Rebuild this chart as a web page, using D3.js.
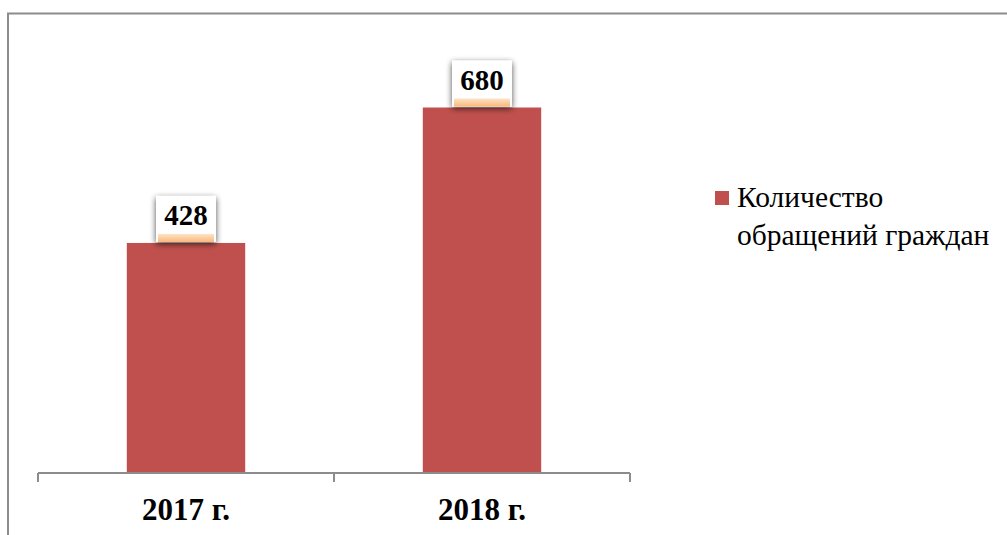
<!DOCTYPE html>
<html>
<head>
<meta charset="utf-8">
<script src="https://cdn.jsdelivr.net/npm/d3@7"></script>
<style>
  body { margin: 0; background: #fff; }
  svg { display: block; }
</style>
</head>
<body>
<div id="chart"></div>
<script>
// chart data
var categories = ["2017 г.", "2018 г."],
    values = [428, 680],
    seriesName = ["Количество", "обращений граждан"],
    barColor = "#C0504D";

var width = 1007,
    height = 535,
    serif = "'Liberation Serif', 'Times New Roman', serif";

var svg = d3.select("#chart")
    .append("svg")
    .attr("width", width)
    .attr("height", height);

var defs = svg.append("defs");

// soft shadow round the value labels
var shadow = defs.append("filter")
    .attr("id", "lblShadow")
    .attr("x", "-30%").attr("y", "-30%")
    .attr("width", "160%").attr("height", "160%");
shadow.append("feGaussianBlur").attr("in", "SourceAlpha").attr("stdDeviation", 3).attr("result", "b");
shadow.append("feOffset").attr("in", "b").attr("dx", 0).attr("dy", 2).attr("result", "o");
shadow.append("feComponentTransfer").attr("in", "o").attr("result", "s")
    .append("feFuncA").attr("type", "linear").attr("slope", 0.7);
var merge = shadow.append("feMerge");
merge.append("feMergeNode").attr("in", "s");
merge.append("feMergeNode").attr("in", "SourceGraphic");

var glow = defs.append("linearGradient")
    .attr("id", "lblGlow")
    .attr("x1", 0).attr("y1", 0).attr("x2", 0).attr("y2", 1);
glow.append("stop").attr("offset", "0%").attr("stop-color", "#fde3c8");
glow.append("stop").attr("offset", "100%").attr("stop-color", "#f9b878");

// outer frame (cut off at right and bottom)
svg.append("path")
    .attr("d", "M8,535 V13.5 H1007")
    .attr("fill", "none")
    .attr("stroke", "#8c8c8c")
    .attr("stroke-width", 2);

var x = d3.scaleBand()
    .domain(categories)
    .range([38, 630])
    .padding(0);

var y = d3.scaleLinear()
    .domain([0, 800])
    .range([473, 43]);

var barW = x.bandwidth() * 0.4;

// bars
svg.selectAll(".bar")
    .data(values)
    .enter().append("rect")
    .attr("class", "bar")
    .attr("x", function(d, i) { return x(categories[i]) + (x.bandwidth() - barW) / 2; })
    .attr("y", function(d) { return y(d); })
    .attr("width", barW)
    .attr("height", function(d) { return y(0) - y(d); })
    .attr("fill", barColor);

// category axis
var axis = svg.append("g").attr("class", "axis");
var edges = categories.map(function(c) { return x(c); }).concat([x.range()[1]]);
axis.append("line")
    .attr("x1", x.range()[0]).attr("x2", x.range()[1])
    .attr("y1", y(0)).attr("y2", y(0))
    .attr("stroke", "#8c8c8c").attr("stroke-width", 2);
axis.selectAll(".tick")
    .data(edges)
    .enter().append("line")
    .attr("x1", function(d) { return d; }).attr("x2", function(d) { return d; })
    .attr("y1", y(0)).attr("y2", y(0) + 9)
    .attr("stroke", "#8c8c8c").attr("stroke-width", 2);
axis.selectAll(".cat")
    .data(categories)
    .enter().append("text")
    .attr("x", function(d) { return x(d) + x.bandwidth() / 2; })
    .attr("y", 520)
    .attr("text-anchor", "middle")
    .attr("font-family", serif)
    .attr("font-weight", "bold")
    .attr("font-size", "31px")
    .attr("fill", "#000")
    .text(function(d) { return d; });

// value labels in white boxes
var lbl = svg.selectAll(".lbl")
    .data(values)
    .enter().append("g")
    .attr("class", "lbl")
    .attr("transform", function(d, i) {
        return "translate(" + (x(categories[i]) + x.bandwidth() / 2) + "," + (y(d) - 1) + ")";
    });
lbl.append("rect")
    .attr("x", -30).attr("y", -46)
    .attr("width", 60).attr("height", 46)
    .attr("fill", "#fff")
    .attr("filter", "url(#lblShadow)");
lbl.append("rect")
    .attr("x", -28).attr("y", -8)
    .attr("width", 56).attr("height", 8)
    .attr("fill", "url(#lblGlow)");
lbl.append("text")
    .attr("x", 0).attr("y", -17)
    .attr("text-anchor", "middle")
    .attr("font-family", serif)
    .attr("font-weight", "bold")
    .attr("font-size", "29px")
    .attr("fill", "#000")
    .text(function(d) { return d; });

// legend
var legend = svg.append("g").attr("class", "legend");
legend.append("rect")
    .attr("x", 715).attr("y", 191)
    .attr("width", 14).attr("height", 14)
    .attr("fill", barColor);
legend.selectAll("text")
    .data(seriesName)
    .enter().append("text")
    .attr("x", 737)
    .attr("y", function(d, i) { return 207 + i * 38; })
    .attr("font-family", serif)
    .attr("font-size", "29.5px")
    .attr("fill", "#000")
    .text(function(d) { return d; });
</script>
</body>
</html>
